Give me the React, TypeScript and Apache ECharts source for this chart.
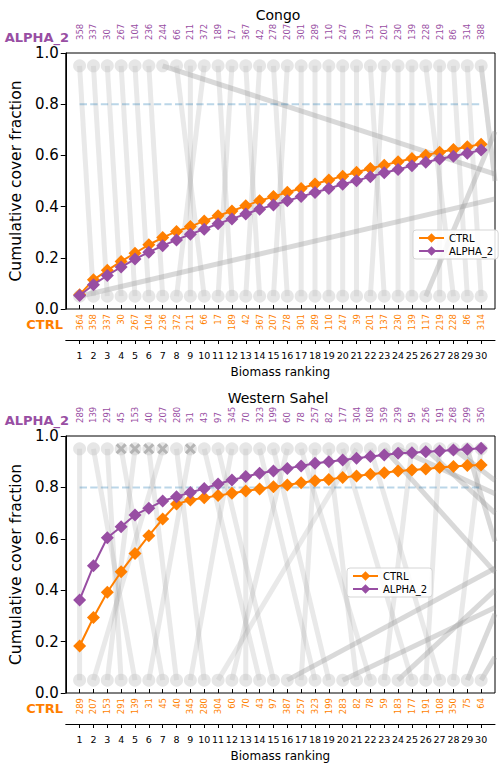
import React, { useEffect, useRef } from "react";
import * as echarts from "echarts";

// ---------- data ----------
const ranks = [1, 2, 3, 4, 5, 6, 7, 8, 9, 10, 11, 12, 13, 14, 15, 16, 17, 18, 19, 20, 21, 22, 23, 24, 25, 26, 27, 28, 29, 30];

const congoCtrlIds = [364, 358, 337, 30, 267, 104, 236, 372, 211, 66, 17, 189, 42, 367, 207, 278, 301, 289, 110, 247, 39, 201, 137, 230, 139, 117, 219, 228, 86, 314];
const congoAlphaIds = [358, 337, 30, 267, 104, 236, 244, 66, 211, 372, 189, 17, 367, 42, 278, 207, 301, 289, 110, 247, 39, 137, 201, 230, 139, 228, 219, 86, 314, 388];
const congoCtrl = [0.056, 0.114, 0.151, 0.186, 0.218, 0.251, 0.279, 0.303, 0.322, 0.344, 0.364, 0.383, 0.403, 0.423, 0.439, 0.456, 0.471, 0.488, 0.504, 0.519, 0.534, 0.549, 0.562, 0.575, 0.588, 0.601, 0.612, 0.623, 0.634, 0.644];
const congoAlpha = [0.053, 0.095, 0.131, 0.164, 0.195, 0.222, 0.247, 0.27, 0.292, 0.312, 0.333, 0.352, 0.371, 0.39, 0.406, 0.423, 0.439, 0.455, 0.471, 0.487, 0.501, 0.517, 0.532, 0.545, 0.56, 0.573, 0.586, 0.597, 0.608, 0.621];
// ranks outside the top 30 (estimated from the line slopes)
const congoAlphaRankOutside: Record<number, number> = { 364: 72, 117: 33 };
const congoCtrlRankOutside: Record<number, number> = { 244: 58, 388: 32 };

const sahelCtrlIds = [289, 207, 153, 291, 139, 31, 45, 40, 345, 280, 304, 60, 70, 43, 97, 387, 257, 323, 199, 283, 82, 78, 59, 183, 177, 191, 108, 350, 75, 64];
const sahelAlphaIds = [289, 139, 291, 45, 153, 40, 207, 280, 31, 43, 97, 345, 70, 323, 199, 60, 78, 257, 82, 177, 304, 108, 359, 239, 59, 256, 191, 268, 299, 350];
const sahelCtrl = [0.183, 0.294, 0.392, 0.472, 0.543, 0.612, 0.677, 0.735, 0.751, 0.76, 0.768, 0.777, 0.786, 0.794, 0.803, 0.809, 0.818, 0.826, 0.831, 0.839, 0.844, 0.851, 0.857, 0.864, 0.868, 0.872, 0.877, 0.881, 0.885, 0.887];
const sahelAlpha = [0.362, 0.495, 0.604, 0.647, 0.693, 0.719, 0.747, 0.764, 0.78, 0.796, 0.813, 0.829, 0.842, 0.855, 0.864, 0.874, 0.883, 0.894, 0.9, 0.907, 0.913, 0.92, 0.926, 0.933, 0.935, 0.939, 0.942, 0.946, 0.948, 0.952];
const sahelAlphaRankOutside: Record<number, number> = { 387: 47, 283: 55, 183: 42, 75: 36, 64: 40 };
const sahelCtrlRankOutside: Record<number, number> = { 359: 38, 239: 60, 256: 44, 268: 50, 299: 34 };
const sahelCrossRanks = [4, 5, 6, 7, 9];

const yTicks = [0, 0.2, 0.4, 0.6, 0.8, 1.0];
const bottomRowY = 0.05;
const topRowY = 0.95;
const thresholdY = 0.8;
const X_MIN = 0;
const X_MAX = 31;

// ---------- styling ----------
const ORANGE = "#ff7f00";
const PURPLE = "#984ea3";
const FONT = "DejaVu Sans";
const CROSS = "path://M2,0 L5,3 L8,0 L10,2 L7,5 L10,8 L8,10 L5,7 L2,10 L0,8 L3,5 L0,2 Z";

type Panel = {
  ctrlIds: number[];
  alphaIds: number[];
  ctrl: number[];
  alpha: number[];
  alphaOut: Record<number, number>;
  ctrlOut: Record<number, number>;
  crosses: number[];
  top: number;
  height: number;
  title: string;
  legendLeft: number;
  legendTop: number;
};

const panels: Panel[] = [
  { ctrlIds: congoCtrlIds, alphaIds: congoAlphaIds, ctrl: congoCtrl, alpha: congoAlpha, alphaOut: congoAlphaRankOutside, ctrlOut: congoCtrlRankOutside, crosses: [], top: 53, height: 256, title: "Congo", legendLeft: 413, legendTop: 230 },
  { ctrlIds: sahelCtrlIds, alphaIds: sahelAlphaIds, ctrl: sahelCtrl, alpha: sahelAlpha, alphaOut: sahelAlphaRankOutside, ctrlOut: sahelCtrlRankOutside, crosses: sahelCrossRanks, top: 436, height: 257, title: "Western Sahel", legendLeft: 347, legendTop: 568 },
];

const GRID_LEFT = 61;
const GRID_WIDTH = 434;

// clip a segment (in data space) to the right edge of the axis range
function clipToRange(p0: number[], p1: number[]): number[][] {
  let a = p0, b = p1;
  if (a[0] > X_MAX) {
    const t = (X_MAX - b[0]) / (a[0] - b[0]);
    a = [X_MAX, b[1] + t * (a[1] - b[1])];
  }
  if (b[0] > X_MAX) {
    const t = (X_MAX - a[0]) / (b[0] - a[0]);
    b = [X_MAX, a[1] + t * (b[1] - a[1])];
  }
  return [a, b];
}

function buildOption() {
  const grid: any[] = [];
  const xAxis: any[] = [];
  const yAxis: any[] = [];
  const series: any[] = [];
  const legend: any[] = [];
  const graphic: any[] = [];

  panels.forEach((p, pi) => {
    grid.push({
      left: GRID_LEFT, top: p.top, width: GRID_WIDTH, height: p.height,
      show: true, borderColor: "#000", borderWidth: 1, backgroundColor: "transparent",
    });
    const base = { type: "value", min: X_MIN, max: X_MAX, interval: 1, gridIndex: pi, splitLine: { show: false } };
    // top axis: ALPHA_2 ids
    xAxis.push({
      ...base, position: "top",
      axisLine: { show: false },
      axisTick: { show: true, length: 4, customValues: ranks, lineStyle: { color: "#000" } },
      axisLabel: {
        show: true, customValues: ranks, rotate: 90, margin: 13, fontSize: 8.5, color: PURPLE, fontFamily: FONT,
        formatter: (v: number) => String(p.alphaIds[Math.round(v) - 1] ?? ""),
      },
    });
    // bottom axis: CTRL ids
    xAxis.push({
      ...base, position: "bottom",
      axisLine: { show: false },
      axisTick: { show: false },
      axisLabel: {
        show: true, customValues: ranks, rotate: 90, margin: 5, fontSize: 8.5, color: ORANGE, fontFamily: FONT,
        formatter: (v: number) => String(p.ctrlIds[Math.round(v) - 1] ?? ""),
      },
    });
    // rank axis
    xAxis.push({
      ...base, position: "bottom", offset: 31,
      axisLine: { show: true, onZero: false, lineStyle: { color: "#000", width: 1 } },
      axisTick: { show: true, length: 4, customValues: ranks, lineStyle: { color: "#000" } },
      axisLabel: {
        show: true, customValues: ranks, margin: 10, fontSize: 9.5, color: "#000", fontFamily: FONT,
        formatter: (v: number) => String(Math.round(v)),
      },
      name: "Biomass ranking", nameLocation: "middle", nameGap: 26,
      nameTextStyle: { fontSize: 12, color: "#000", fontFamily: FONT },
    });
    yAxis.push({
      type: "value", gridIndex: pi, min: 0, max: 1, interval: 0.2,
      axisLine: { show: true, onZero: false, lineStyle: { color: "#000" } },
      axisTick: { show: true, length: 5, lineStyle: { color: "#000" }, customValues: yTicks },
      axisLabel: { fontSize: 15, color: "#000", margin: 7, fontFamily: FONT, customValues: yTicks, formatter: (v: number) => v.toFixed(1) },
      splitLine: { show: false },
      name: "Cumulative cover fraction", nameLocation: "middle", nameGap: 36,
      nameTextStyle: { fontSize: 15.5, color: "#000", fontFamily: FONT },
    });

    const xi = pi * 3 + 1;
    // gray connecting links
    const segs: { from: number; to: number; out: boolean }[] = [];
    p.ctrlIds.forEach((id, i) => {
      const j = p.alphaIds.indexOf(id);
      segs.push({ from: i + 1, to: j >= 0 ? j + 1 : p.alphaOut[id], out: j < 0 });
    });
    p.alphaIds.forEach((id, j) => {
      if (p.ctrlIds.indexOf(id) < 0) segs.push({ from: p.ctrlOut[id], to: j + 1, out: true });
    });
    segs.forEach((s) => {
      series.push({
        type: "line", xAxisIndex: xi, yAxisIndex: pi, symbol: "none", silent: true, clip: true,
        data: clipToRange([s.from, bottomRowY], [s.to, topRowY]),
        lineStyle: { color: "#9a9a9a", width: 5, opacity: s.out ? 0.38 : 0.22, cap: "butt" },
        z: 1,
      });
    });
    // circles at both rows
    series.push({
      type: "scatter", xAxisIndex: xi, yAxisIndex: pi, symbol: "circle", symbolSize: 13, silent: true,
      data: ranks.map((r) => [r, bottomRowY]).concat(ranks.map((r) => [r, topRowY])),
      itemStyle: { color: "#c4c4c4", opacity: 0.42 }, z: 2,
    });
    if (p.crosses.length) {
      series.push({
        type: "scatter", xAxisIndex: xi, yAxisIndex: pi, symbol: CROSS, symbolSize: 11, silent: true,
        data: p.crosses.map((r) => [r, topRowY]),
        itemStyle: { color: "#a9a9a9" }, z: 3,
      });
    }
    // threshold line
    series.push({
      type: "line", xAxisIndex: xi, yAxisIndex: pi, symbol: "none", silent: true,
      data: [[ranks[0], thresholdY], [ranks[ranks.length - 1], thresholdY]],
      lineStyle: { color: "#1f77b4", width: 2, opacity: 0.3, type: [7.4, 3.2] }, z: 3,
    });
    series.push({
      name: "CTRL", type: "line", xAxisIndex: xi, yAxisIndex: pi,
      data: ranks.map((r, i) => [r, p.ctrl[i]]),
      symbol: "diamond", symbolSize: 13, lineStyle: { color: ORANGE, width: 2 },
      itemStyle: { color: ORANGE }, z: 4,
    });
    series.push({
      name: "ALPHA_2", type: "line", xAxisIndex: xi, yAxisIndex: pi,
      data: ranks.map((r, i) => [r, p.alpha[i]]),
      symbol: "diamond", symbolSize: 13, lineStyle: { color: PURPLE, width: 2 },
      itemStyle: { color: PURPLE }, z: 5,
    });
    legend.push({
      data: ["CTRL", "ALPHA_2"], orient: "vertical", left: p.legendLeft, top: p.legendTop,
      itemWidth: 25, itemHeight: 12, itemGap: 3, padding: [3, 5, 3, 5],
      backgroundColor: "rgba(255,255,255,0.85)", borderColor: "#d5d5d5", borderWidth: 1, borderRadius: 3,
      textStyle: { fontSize: 10, color: "#000", fontFamily: FONT }, selectedMode: false,
    });

    const cx = GRID_LEFT + GRID_WIDTH / 2;
    graphic.push({
      type: "text", x: cx, y: p.top - 38,
      style: { text: p.title, font: `14px '${FONT}'`, fill: "#000", align: "center", verticalAlign: "middle", textAlign: "center", textVerticalAlign: "middle" },
    });
    graphic.push({
      type: "text", x: 69, y: p.top - 15.5,
      style: { text: "ALPHA_2", font: `bold 13px '${FONT}'`, fill: PURPLE, align: "right", verticalAlign: "middle", textAlign: "right", textVerticalAlign: "middle" },
    });
    graphic.push({
      type: "text", x: 63, y: p.top + p.height + 15,
      style: { text: "CTRL", font: `bold 13px '${FONT}'`, fill: ORANGE, align: "right", verticalAlign: "middle", textAlign: "right", textVerticalAlign: "middle" },
    });
  });

  return {
    animation: false,
    textStyle: { fontFamily: FONT },
    grid, xAxis, yAxis, series, legend, graphic,
  };
}

export default function App() {
  const ref = useRef<HTMLDivElement>(null);
  useEffect(() => {
    document.body.style.margin = "0";
    const chart = echarts.init(ref.current!, null, { renderer: "svg" });
    chart.setOption(buildOption() as any);
    return () => chart.dispose();
  }, []);
  return <div ref={ref} style={{ width: 500, height: 766 }} />;
}
